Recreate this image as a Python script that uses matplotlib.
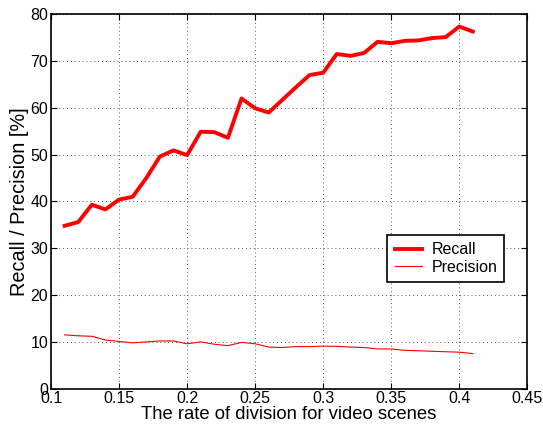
import numpy as np
import matplotlib.pyplot as plt

plt.rcParams['font.family'] = ['Liberation Sans', 'DejaVu Sans']

# rate of division (x) and results in %
rate = [0.11, 0.12, 0.13, 0.14, 0.15, 0.16, 0.17, 0.18, 0.19, 0.20, 0.21,
        0.22, 0.23, 0.24, 0.25, 0.26, 0.27, 0.28, 0.29, 0.30, 0.31, 0.32,
        0.33, 0.34, 0.35, 0.36, 0.37, 0.38, 0.39, 0.40, 0.41]
recall = [34.8, 35.6, 39.3, 38.3, 40.4, 41.0, 45.0, 49.6, 50.9, 49.9, 54.9,
          54.8, 53.6, 62.0, 59.9, 59.0, 61.7, 64.4, 67.0, 67.5, 71.5, 71.1,
          71.7, 74.1, 73.8, 74.3, 74.4, 74.9, 75.1, 77.35, 76.3]
precision = [11.5, 11.3, 11.2, 10.4, 10.1, 9.8, 10.0, 10.2, 10.2, 9.6, 10.0,
             9.5, 9.2, 9.9, 9.6, 8.9, 8.8, 9.0, 9.0, 9.1, 9.05, 8.9,
             8.8, 8.5, 8.5, 8.2, 8.1, 8.0, 7.9, 7.8, 7.5]

xticks = [0.1, 0.15, 0.2, 0.25, 0.3, 0.35, 0.4, 0.45]
xticklabels = ['0.1', '0.15', '0.2', '0.25', '0.3', '0.35', '0.4', '0.45']
yticks = [0, 10, 20, 30, 40, 50, 60, 70, 80]

fig = plt.figure(figsize=(5.43, 4.3), dpi=100)
ax = fig.add_axes([0.094, 0.096, 0.877, 0.871])

ax.plot(rate, recall, color='red', linewidth=2.8, label='Recall')
ax.plot(rate, precision, color='red', linewidth=0.8, label='Precision')

ax.set_xlim(0.1, 0.45)
ax.set_ylim(0, 80)
ax.set_xticks(xticks)
ax.set_xticklabels(xticklabels)
ax.set_yticks(yticks)
ax.tick_params(direction='in', top=True, right=True, labelsize=11.5, length=4, pad=2)
ax.grid(True, linestyle=(0, (1, 3)), color='#555555', linewidth=0.7)
for s in ax.spines.values():
    s.set_linewidth(1.2)

ax.set_xlabel('The rate of division for video scenes', fontsize=13.3, labelpad=0)
ax.set_ylabel('Recall / Precision [%]', fontsize=14.3, labelpad=1)

leg = ax.legend(loc='upper left', bbox_to_anchor=(0.7065, 0.41),
                fontsize=11.5, fancybox=False, framealpha=1,
                edgecolor='black', borderpad=0.45, labelspacing=0.15,
                handlelength=1.7, handletextpad=0.6, borderaxespad=0)
leg.get_frame().set_linewidth(1.2)

fig.savefig('out.png', dpi=100)
